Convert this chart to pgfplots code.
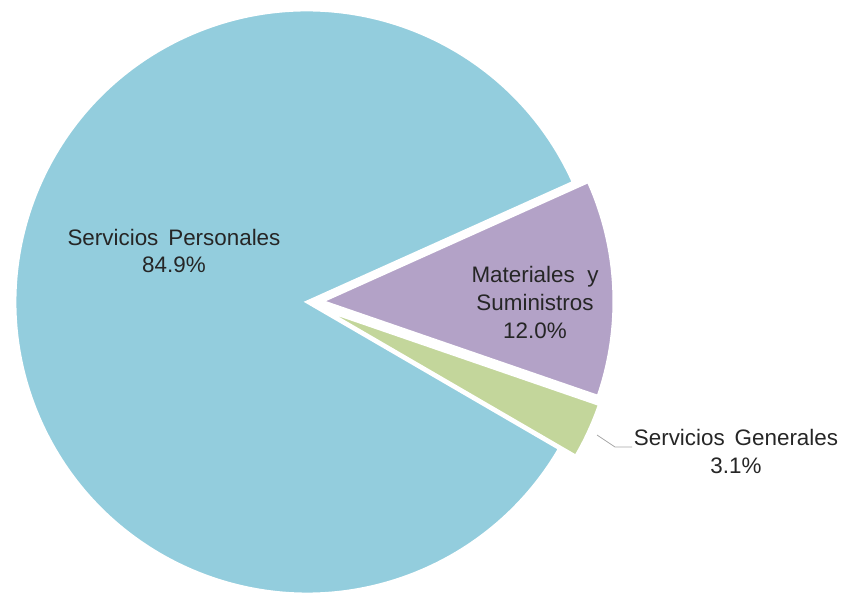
\documentclass[border=0pt]{standalone}
\usepackage{pgfplots}
\pgfplotsset{compat=1.18}
\usepackage{fontspec}
\setmainfont{Liberation Sans}
\definecolor{cBlue}{HTML}{93CDDD}
\definecolor{cPurple}{HTML}{B3A2C7}
\definecolor{cGreen}{HTML}{C3D69B}
\definecolor{cText}{HTML}{262626}
\definecolor{cLead}{HTML}{A6A6A6}
% data (percent)
\def\vPers{84.9}
\def\vMat{12.0}
\def\vGen{3.1}
\def\startAng{24.2}
\def\R{292}
\begin{document}
\begin{tikzpicture}
\begin{axis}[x=1pt,y=1pt,xmin=0,xmax=847,ymin=0,ymax=594,hide axis,clip=false,
  scale only axis]
\path (axis cs:0,0) rectangle (axis cs:847,594);
% angles from data
\pgfmathsetmacro\aMatS{\startAng-3.6*\vMat}
\pgfmathsetmacro\aGenS{\aMatS-3.6*\vGen}
\pgfmathsetmacro\aPersE{\startAng+3.6*\vPers}
\pgfmathsetmacro\mMat{(\startAng+\aMatS)/2}
\pgfmathsetmacro\mGen{(\aMatS+\aGenS)/2}
% big slice
\filldraw[fill=cBlue,draw=white,line width=3pt,line join=miter]
  (axis cs:307,292) -- ++(\startAng:\R pt) arc[start angle=\startAng,end angle=\aPersE,radius=\R pt] -- cycle;
% purple slice (exploded)
\pgfmathsetmacro\mx{307+15*cos(\mMat)}
\pgfmathsetmacro\my{292+15*sin(\mMat)}
\filldraw[fill=cPurple,draw=white,line width=3pt,line join=miter]
  (axis cs:\mx,\my) -- ++(\aMatS:\R pt) arc[start angle=\aMatS,end angle=\startAng,radius=\R pt] -- cycle;
% green slice (exploded)
\pgfmathsetmacro\gx{307+18*cos(\mGen)}
\pgfmathsetmacro\gy{292+18*sin(\mGen)}
\filldraw[fill=cGreen,draw=white,line width=3pt,line join=miter]
  (axis cs:\gx,\gy) -- ++(\aGenS:\R pt) arc[start angle=\aGenS,end angle=\aMatS,radius=\R pt] -- cycle;
% labels
\node[align=center,text=cText,font=\fontsize{22.4}{28}\selectfont] at (axis cs:174,343) {Servicios\ \,Personales\\84.9\%};
\node[align=center,text=cText,font=\fontsize{22.4}{28}\selectfont] at (axis cs:535,292) {Materiales\ \ y\\Suministros\\12.0\%};
\draw[cLead,line width=0.8pt] (axis cs:597,159) -- (axis cs:615,147) -- (axis cs:632,147);
\node[align=center,text=cText,font=\fontsize{22.4}{28}\selectfont] at (axis cs:736,143) {Servicios\ \,Generales\\3.1\%};
\end{axis}
\pgfresetboundingbox
\path (current axis.south west) rectangle (current axis.north east);
\end{tikzpicture}
\end{document}
